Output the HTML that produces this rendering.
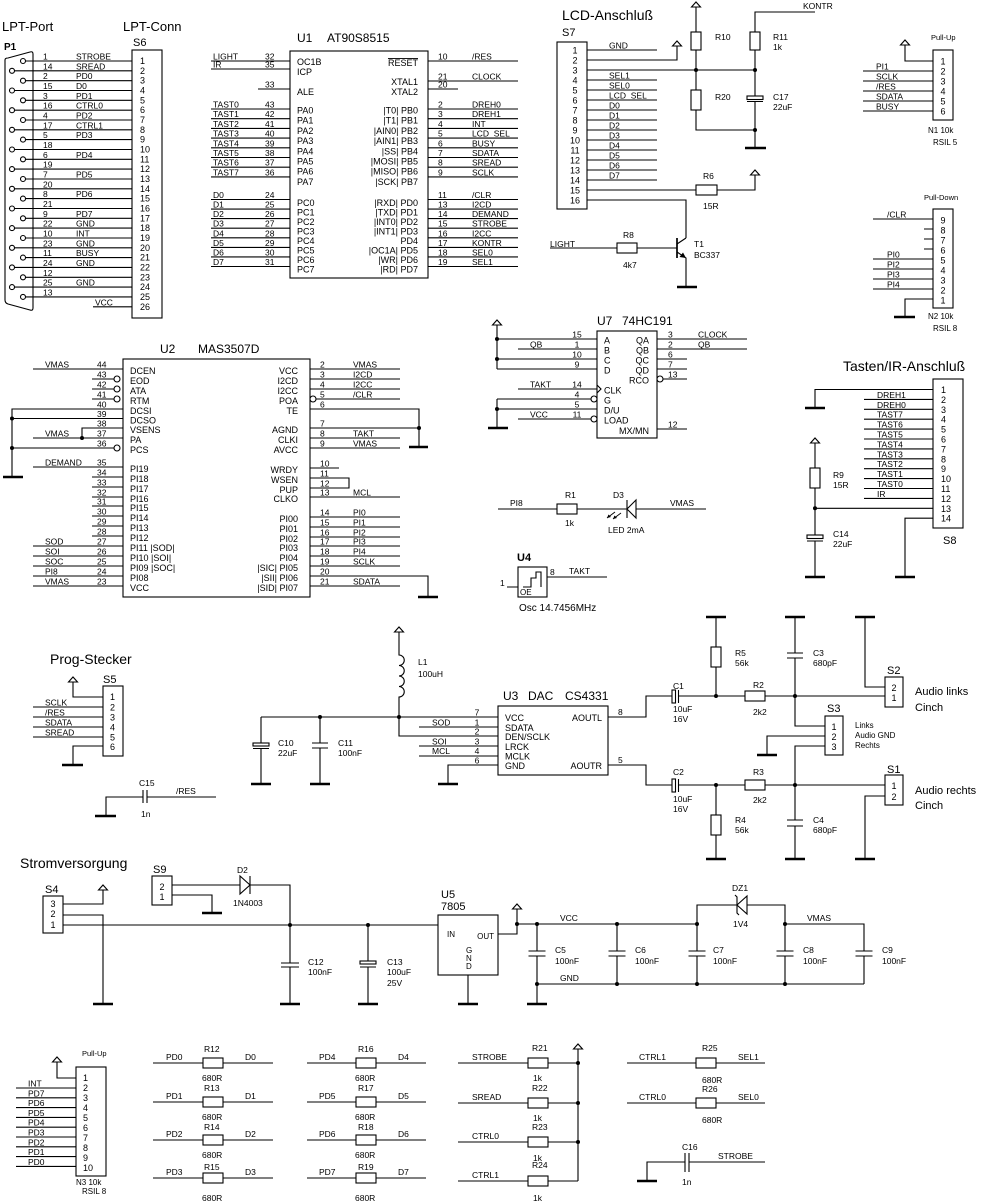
<!DOCTYPE html>
<html><head><meta charset="utf-8"><title>Schaltplan</title>
<style>
html,body{margin:0;padding:0;background:#fff;}
svg{display:block;}
</style></head><body>
<svg xmlns="http://www.w3.org/2000/svg" width="982" height="1204" viewBox="0 0 982 1204" font-family="'Liberation Sans', sans-serif" font-size="8.5">
<rect width="982" height="1204" fill="#fff"/>

<!-- ================= WIRES / SHAPES ================= -->
<g fill="none" stroke="#000" stroke-width="1.1">
<!-- LPT -->
<path d="M5,60 Q5,58 8,58 L30,52 Q33,51 33,54 L33,308 Q33,311 30,310 L8,304 Q5,303 5,300 Z"/>
<rect x="132" y="50" width="30" height="268"/>
<path d="M25.5,61H132 M14.5,70.8H132 M25.5,80.7H132 M14.5,90.5H132 M25.5,100.3H132 M14.5,110.2H132 M25.5,120H132 M14.5,129.8H132 M25.5,139.6H132 M14.5,149.5H132 M25.5,159.3H132 M14.5,169.1H132 M25.5,179H132 M14.5,188.8H132 M25.5,198.6H132 M14.5,208.5H132 M25.5,218.3H132 M14.5,228.1H132 M25.5,238H132 M14.5,247.8H132 M25.5,257.6H132 M14.5,267.4H132 M25.5,277.3H132 M14.5,287.1H132 M25.5,296.9H132 M93,306.8H132"/>
<g fill="#fff">
<circle cx="23" cy="61" r="2.5"/><circle cx="23" cy="80.7" r="2.5"/><circle cx="23" cy="100.3" r="2.5"/><circle cx="23" cy="120" r="2.5"/><circle cx="23" cy="139.6" r="2.5"/><circle cx="23" cy="159.3" r="2.5"/><circle cx="23" cy="179" r="2.5"/><circle cx="23" cy="198.6" r="2.5"/><circle cx="23" cy="218.3" r="2.5"/><circle cx="23" cy="238" r="2.5"/><circle cx="23" cy="257.6" r="2.5"/><circle cx="23" cy="277.3" r="2.5"/><circle cx="23" cy="296.9" r="2.5"/>
<circle cx="12" cy="70.8" r="2.5"/><circle cx="12" cy="90.5" r="2.5"/><circle cx="12" cy="110.2" r="2.5"/><circle cx="12" cy="129.8" r="2.5"/><circle cx="12" cy="149.5" r="2.5"/><circle cx="12" cy="169.1" r="2.5"/><circle cx="12" cy="188.8" r="2.5"/><circle cx="12" cy="208.5" r="2.5"/><circle cx="12" cy="228.1" r="2.5"/><circle cx="12" cy="247.8" r="2.5"/><circle cx="12" cy="267.4" r="2.5"/><circle cx="12" cy="287.1" r="2.5"/>
</g>

<!-- U1 -->
<rect x="290" y="51" width="138" height="227"/>
<path d="M211,61H290 M211,69H290 M258,89H290 M211,109H290 M211,118.7H290 M211,128.4H290 M211,138.1H290 M211,147.8H290 M211,157.5H290 M211,167.2H290 M211,176.9H290 M211,199.5H290 M211,209.1H290 M211,218.6H290 M211,228.2H290 M211,237.8H290 M211,247.4H290 M211,256.9H290 M211,266.5H290"/>
<path d="M428,61H518 M428,81H518 M428,89H458 M428,109H518 M428,118.7H518 M428,128.4H518 M428,138.1H518 M428,147.8H518 M428,157.5H518 M428,167.2H518 M428,176.9H518 M428,199.5H518 M428,209.1H518 M428,218.6H518 M428,228.2H518 M428,237.8H518 M428,247.4H518 M428,256.9H518 M428,266.5H518"/>

<!-- LCD -->
<rect x="557" y="42" width="30" height="167"/>
<path d="M587,50H657 M587,60H677V46 M587,70H755 M587,80H657 M587,90H657 M587,100H657 M587,110H657 M587,120H657 M587,130H657 M587,140H657 M587,150H657 M587,160H657 M587,170H657 M587,180H657 M587,190H696 M717,190H755V175 M587,200H686V238"/>
<path d="M696,7V32 M696,50V90 M696,110V130H755 M815,12H755V32 M755,50V96 M747,101.5H763 M755,101.5V148"/>
<rect x="691" y="32" width="10" height="18"/><rect x="691" y="90" width="10" height="20"/>
<rect x="750" y="32" width="10" height="18"/><rect x="747" y="96" width="16" height="3.5"/>
<rect x="696" y="185" width="21" height="10"/>
<path d="M677,238V258" stroke-width="1.7"/>
<path d="M677,244L686,238 M677,252L686,258V287 M550,248H617 M637,248H677"/>
<rect x="617" y="243" width="20" height="10"/>

<!-- N1 / N2 -->
<rect x="933" y="50" width="20" height="70"/>
<path d="M933,61H905V45 M863,71H933 M863,81H933 M863,91H933 M863,101H933 M863,111H933"/>
<rect x="933" y="209" width="20" height="99"/>
<path d="M873,219H933 M924,229H933 M924,239H933 M924,249H933 M873,259H933 M873,269H933 M873,279H933 M873,289H933 M933,299H905V317"/>

<!-- U2 -->
<rect x="123" y="359" width="187" height="238"/>
<path d="M33,369H123 M92,379H114 M92,389H114 M92,399H114 M12,477V409H123 M12,418.5H123 M82,438V428H123 M33,438H123 M12,448H114 M33,467H123 M92,477H123 M92,487H123 M92,497H123 M92,506H123 M92,516H123 M92,526H123 M92,536H123 M33,546H123 M33,556H123 M33,566H123 M33,576H123 M33,586H123"/>
<path d="M310,369H400 M310,379H400 M310,389H400 M316,399H400 M310,409H419V447 M310,428H419 M310,438H400 M310,448H400 M310,468H339 M310,478H349V488H310 M310,497H400 M310,517H400 M310,527H400 M310,537H400 M310,546H400 M310,556H400 M310,566H400 M310,576H428V597 M310,586H400"/>
<g fill="#fff"><circle cx="117" cy="379" r="3"/><circle cx="117" cy="389" r="3"/><circle cx="117" cy="399" r="3"/><circle cx="117" cy="448" r="3"/><circle cx="313" cy="399" r="3"/></g>

<!-- U7 -->
<rect x="597" y="331" width="60" height="107"/>
<path d="M497,325V369 M497,339H597 M518,349H597 M497,359H597 M497,369H597 M518,389H597 M597,385L601,389L597,393 M497,399H591 M497,409H597 M497,399V428 M518,419H591"/>
<path d="M657,339H747 M657,349H747 M657,359H687 M657,369H687 M663,379H687 M657,429H687"/>
<g fill="#fff"><circle cx="594" cy="399" r="3"/><circle cx="594" cy="419" r="3"/><circle cx="660" cy="379" r="3"/></g>

<!-- R1 / D3 -->
<path d="M498,509H557 M577,509H627 M627,500V518 M636,509H706"/>
<rect x="557" y="504" width="20" height="10"/>
<polygon points="627,509 636,500 636,518" fill="#fff"/>
<path d="M621,513L613,519 M615,512L607,518" stroke-width="0.9"/>

<!-- U4 -->
<rect x="518" y="567" width="29" height="30"/>
<path d="M523,587H531V578H536V572H541V587 M547,577H607 M507,587H518"/>

<!-- S8 / Tasten -->
<rect x="933" y="379" width="30" height="149"/>
<path d="M933,389.5H815V408 M864,399.4H933 M864,409.3H933 M864,419.2H933 M864,429.1H933 M864,439H933 M864,448.9H933 M864,458.8H933 M864,468.7H933 M864,478.6H933 M864,488.5H933 M864,498.4H933 M933,508.3H815 M933,518.2H905V577"/>
<path d="M815,443V468 M815,488V535 M807,541H823 M815,541V577"/>
<rect x="810" y="468" width="10" height="20"/><rect x="807" y="535" width="16" height="3.5"/>

<!-- S5 / C15 -->
<rect x="103" y="686" width="20" height="70"/>
<path d="M103,697H73V682 M33,707H103 M33,717H103 M33,727H103 M33,737H103 M103,746H73V765"/>
<path d="M147,797H216 M143,790V803 M147,790V803 M143,797H106V816"/>

<!-- L1 / C10 / C11 / U3 -->
<path d="M399,632V655 a5.25,5.25 0 0 1 0,10.5 a5.25,5.25 0 0 1 0,10.5 a5.25,5.25 0 0 1 0,10.5 a5.25,5.25 0 0 1 0,10.5 V736H498 M261,717H498"/>
<path d="M261,717V743 M253,748.5H269 M261,748.5V784 M320,717V743 M312,743H328 M312,748H328 M320,748V784"/>
<rect x="253" y="743" width="16" height="3"/>
<rect x="498" y="706" width="110" height="69"/>
<path d="M419,727H498 M419,746H498 M419,756H498 M498,765H448V784 M608,717H646V696H672 M608,765H646V785H672"/>

<!-- Audio -->
<rect x="672" y="690" width="3.5" height="13"/><rect x="672" y="779" width="3.5" height="13"/>
<path d="M678.5,690V703 M678.5,779V792 M678.5,696H745 M765,696H885 M678.5,785H745 M765,785H885"/>
<rect x="745" y="691" width="20" height="10"/><rect x="745" y="780" width="20" height="10"/>
<path d="M716,617V647 M716,667V696 M716,785V815 M716,835V859"/>
<rect x="711" y="647" width="10" height="20"/><rect x="711" y="815" width="10" height="20"/>
<path d="M795,617V653 M787,653H803 M787,658H803 M795,658V726H825 M795,785V820 M787,820H803 M787,826H803 M795,826V859"/>
<rect x="885" y="677" width="18" height="30"/><rect x="825" y="716" width="18" height="39"/><rect x="885" y="775" width="18" height="30"/>
<path d="M885,687H865V617 M825,736H767V755 M825,746H795V785 M885,796H865V859"/>

<!-- Power -->
<rect x="43" y="896" width="20" height="37"/>
<path d="M63,904H103V890 M63,915H103V1004 M63,925H438"/>
<rect x="152" y="876" width="20" height="29"/>
<path d="M172,885H240 M250,876V894 M250,885H290V925 M172,895H212V913"/>
<polygon points="240,876 240,894 250,885" fill="#fff"/>
<path d="M290,925V963 M281,963H299 M281,967H299 M290,967V1004 M368,925V961 M360,967H376 M368,967V1004"/>
<rect x="360" y="961" width="16" height="3"/>
<rect x="438" y="915" width="60" height="60"/>
<path d="M468,975V1004 M498,934H517V909 M517,924H697"/>
<path d="M537,924V951 M528.5,951H545.5 M528.5,956H545.5 M537,956V984 M617,924V951 M608.5,951H625.5 M608.5,956H625.5 M617,956V984 M697,924V951 M688.5,951H705.5 M688.5,956H705.5 M697,956V984 M785,924V951 M776.5,951H793.5 M776.5,956H793.5 M785,956V984 M785,924H864V951 M855.5,951H872.5 M855.5,956H872.5 M864,956V984 M537,984H864 M537,984V1004"/>
<path d="M697,924V905H737 M747,905H785V924 M735,895L737,897V913L739,915"/>
<polygon points="737,905 747,896 747,914" fill="#fff"/>

<!-- Bottom -->
<rect x="76" y="1067" width="30" height="109"/>
<path d="M76,1078H57V1062 M16,1088H76 M16,1097.8H76 M16,1107.6H76 M16,1117.4H76 M16,1127.2H76 M16,1137H76 M16,1146.8H76 M16,1156.6H76 M16,1166.4H76"/>
<path d="M153,1063H203 M223,1063H273 M153,1102H203 M223,1102H273 M153,1140H203 M223,1140H273 M153,1178H203 M223,1178H273"/>
<rect x="203" y="1058" width="20" height="10"/><rect x="203" y="1097" width="20" height="10"/><rect x="203" y="1135" width="20" height="10"/><rect x="203" y="1173" width="20" height="10"/>
<path d="M307,1063H356 M376,1063H426 M307,1102H356 M376,1102H426 M307,1140H356 M376,1140H426 M307,1178H356 M376,1178H426"/>
<rect x="356" y="1058" width="20" height="10"/><rect x="356" y="1097" width="20" height="10"/><rect x="356" y="1135" width="20" height="10"/><rect x="356" y="1173" width="20" height="10"/>
<path d="M458,1063H528 M548,1063H578 M458,1103H528 M548,1103H578 M458,1142H528 M548,1142H578 M458,1181H528 M548,1181H578 M578,1049V1181"/>
<rect x="528" y="1058" width="20" height="10"/><rect x="528" y="1098" width="20" height="10"/><rect x="528" y="1137" width="20" height="10"/><rect x="528" y="1176" width="20" height="10"/>
<path d="M627,1063H696 M716,1063H765 M627,1103H696 M716,1103H765"/>
<rect x="696" y="1058" width="20" height="10"/><rect x="696" y="1098" width="20" height="10"/>
<path d="M685,1153V1172 M689,1153V1172 M689,1162H765 M685,1162H647V1181"/>
</g>

<!-- power arrows -->
<g fill="#fff" stroke="#000" stroke-width="1.1">
<polygon points="691.5,7 696,2 700.5,7"/>
<polygon points="672.5,46 677,41 681.5,46"/>
<polygon points="750.5,175 755,170 759.5,175"/>
<polygon points="900.5,45 905,40 909.5,45"/>
<polygon points="492.5,325 497,320 501.5,325"/>
<polygon points="810.5,443 815,438 819.5,443"/>
<polygon points="68.5,682 73,677 77.5,682"/>
<polygon points="394.5,632 399,627 403.5,632"/>
<polygon points="98.5,890 103,885 107.5,890"/>
<polygon points="512.5,909 517,904 521.5,909"/>
<polygon points="52.5,1062 57,1057 61.5,1062"/>
<polygon points="573.5,1049 578,1044 582.5,1049"/>
</g>

<!-- grounds -->
<g stroke="#000" stroke-width="2.6">
<path d="M745,148H766 M677,287H697 M894,317H915 M3,477H23 M409,447H428 M418,597H438 M488,428H508 M805,408H825 M895,577H915 M805,577H825 M62,765H83 M95,816H116 M251,784H271 M310,784H330 M438,784H458 M706,617H726 M785,617H805 M855,617H875 M757,755H777 M706,859H726 M785,859H805 M855,859H875 M93,1004H113 M202,913H222 M280,1004H300 M358,1004H378 M458,1004H478 M527,1004H547 M637,1181H657"/>
</g>

<!-- dots & arrow heads -->
<g fill="#000">
<circle cx="696" cy="70" r="2"/><circle cx="755" cy="70" r="2"/><circle cx="755" cy="130" r="2"/>
<polygon points="686,258 679.5,257 683,252.5"/>
<circle cx="12" cy="418.5" r="2"/><circle cx="12" cy="448" r="2"/><circle cx="82" cy="438" r="2"/><circle cx="419" cy="428" r="2"/>
<circle cx="497" cy="339" r="2"/><circle cx="497" cy="359" r="2"/><circle cx="497" cy="409" r="2"/>
<polygon points="607,518 608.5,514.5 611,517"/><polygon points="613,519 614.5,515.5 617,518"/>
<circle cx="815" cy="508.3" r="2"/>
<circle cx="320" cy="717" r="2"/><circle cx="399" cy="717" r="2"/>
<circle cx="716" cy="696" r="2"/><circle cx="795" cy="696" r="2"/><circle cx="716" cy="785" r="2"/><circle cx="795" cy="785" r="2"/>
<circle cx="290" cy="925" r="2"/><circle cx="368" cy="925" r="2"/><circle cx="517" cy="924" r="2"/>
<circle cx="537" cy="924" r="2"/><circle cx="617" cy="924" r="2"/><circle cx="697" cy="924" r="2"/><circle cx="785" cy="924" r="2"/>
<circle cx="537" cy="984" r="2"/><circle cx="617" cy="984" r="2"/><circle cx="697" cy="984" r="2"/><circle cx="785" cy="984" r="2"/>
<circle cx="578" cy="1063" r="2"/><circle cx="578" cy="1103" r="2"/><circle cx="578" cy="1142" r="2"/>
</g>

<!-- ================= TEXT ================= -->
<g fill="#000">
<!-- LPT -->
<text x="2" y="31" font-size="13">LPT-Port</text>
<text x="123" y="31" font-size="13">LPT-Conn</text>
<text x="4" y="50" font-size="10" font-weight="bold">P1</text>
<text x="133" y="46" font-size="11">S6</text>
<text x="43" y="59.5">1</text><text x="43" y="69.3">14</text><text x="43" y="79.2">2</text><text x="43" y="89">15</text><text x="43" y="98.8">3</text><text x="43" y="108.7">16</text><text x="43" y="118.5">4</text><text x="43" y="128.3">17</text><text x="43" y="138.1">5</text><text x="43" y="148">18</text><text x="43" y="157.8">6</text><text x="43" y="167.6">19</text><text x="43" y="177.5">7</text><text x="43" y="187.3">20</text><text x="43" y="197.1">8</text><text x="43" y="207">21</text><text x="43" y="216.8">9</text><text x="43" y="226.6">22</text><text x="43" y="236.5">10</text><text x="43" y="246.3">23</text><text x="43" y="256.1">11</text><text x="43" y="265.9">24</text><text x="43" y="275.8">12</text><text x="43" y="285.6">25</text><text x="43" y="295.4">13</text>
<text x="76" y="59.5">STROBE</text><text x="76" y="69.3">SREAD</text><text x="76" y="79.2">PD0</text><text x="76" y="89">D0</text><text x="76" y="98.8">PD1</text><text x="76" y="108.7">CTRL0</text><text x="76" y="118.5">PD2</text><text x="76" y="128.3">CTRL1</text><text x="76" y="138.1">PD3</text><text x="76" y="157.8">PD4</text><text x="76" y="177.5">PD5</text><text x="76" y="197.1">PD6</text><text x="76" y="216.8">PD7</text><text x="76" y="226.6">GND</text><text x="76" y="236.5">INT</text><text x="76" y="246.3">GND</text><text x="76" y="256.1">BUSY</text><text x="76" y="265.9">GND</text><text x="76" y="285.6">GND</text><text x="95" y="305.3">VCC</text>
<g font-size="9">
<text x="140" y="64">1</text><text x="140" y="73.8">2</text><text x="140" y="83.7">3</text><text x="140" y="93.5">4</text><text x="140" y="103.3">5</text><text x="140" y="113.2">6</text><text x="140" y="123">7</text><text x="140" y="132.8">8</text><text x="140" y="142.6">9</text><text x="140" y="152.5">10</text><text x="140" y="162.3">11</text><text x="140" y="172.1">12</text><text x="140" y="182">13</text><text x="140" y="191.8">14</text><text x="140" y="201.6">15</text><text x="140" y="211.5">16</text><text x="140" y="221.3">17</text><text x="140" y="231.1">18</text><text x="140" y="241">19</text><text x="140" y="250.8">20</text><text x="140" y="260.6">21</text><text x="140" y="270.4">22</text><text x="140" y="280.3">23</text><text x="140" y="290.1">24</text><text x="140" y="299.9">25</text><text x="140" y="309.8">26</text>
</g>

<!-- U1 -->
<text x="297" y="42" font-size="12">U1</text><text x="327" y="42" font-size="12">AT90S8515</text>
<text x="213" y="59.5">LIGHT</text><text x="265" y="59.5">32</text>
<text x="213" y="67.5">IR</text><text x="265" y="67.5">35</text>
<text x="265" y="87.5">33</text>
<text x="213" y="107.5">TAST0</text><text x="265" y="107.5">43</text>
<text x="213" y="117.2">TAST1</text><text x="265" y="117.2">42</text>
<text x="213" y="126.9">TAST2</text><text x="265" y="126.9">41</text>
<text x="213" y="136.6">TAST3</text><text x="265" y="136.6">40</text>
<text x="213" y="146.3">TAST4</text><text x="265" y="146.3">39</text>
<text x="213" y="156">TAST5</text><text x="265" y="156">38</text>
<text x="213" y="165.7">TAST6</text><text x="265" y="165.7">37</text>
<text x="213" y="175.4">TAST7</text><text x="265" y="175.4">36</text>
<text x="213" y="198">D0</text><text x="265" y="198">24</text>
<text x="213" y="207.6">D1</text><text x="265" y="207.6">25</text>
<text x="213" y="217.1">D2</text><text x="265" y="217.1">26</text>
<text x="213" y="226.7">D3</text><text x="265" y="226.7">27</text>
<text x="213" y="236.3">D4</text><text x="265" y="236.3">28</text>
<text x="213" y="245.9">D5</text><text x="265" y="245.9">29</text>
<text x="213" y="255.4">D6</text><text x="265" y="255.4">30</text>
<text x="213" y="265">D7</text><text x="265" y="265">31</text>
<g font-size="9">
<text x="297" y="65">OC1B</text><text x="297" y="75">ICP</text><text x="297" y="95">ALE</text>
<text x="297" y="113.5">PA0</text><text x="297" y="123.7">PA1</text><text x="297" y="133.9">PA2</text><text x="297" y="144.1">PA3</text><text x="297" y="154.3">PA4</text><text x="297" y="164.5">PA5</text><text x="297" y="174.7">PA6</text><text x="297" y="184.9">PA7</text>
<text x="297" y="206">PC0</text><text x="297" y="215.5">PC1</text><text x="297" y="225">PC2</text><text x="297" y="234.5">PC3</text><text x="297" y="244">PC4</text><text x="297" y="253.5">PC5</text><text x="297" y="263">PC6</text><text x="297" y="272.5">PC7</text>
<g text-anchor="end">
<text x="418" y="66" text-decoration="overline">RESET</text><text x="418" y="85">XTAL1</text><text x="418" y="95">XTAL2</text>
<text x="418" y="113.5">|T0| PB0</text><text x="418" y="123.7">|T1| PB1</text><text x="418" y="133.9">|AIN0| PB2</text><text x="418" y="144.1">|AIN1| PB3</text><text x="418" y="154.3">|SS| PB4</text><text x="418" y="164.5">|MOSI| PB5</text><text x="418" y="174.7">|MISO| PB6</text><text x="418" y="184.9">|SCK| PB7</text>
<text x="418" y="206">|RXD| PD0</text><text x="418" y="215.5">|TXD| PD1</text><text x="418" y="225">|INT0| PD2</text><text x="418" y="234.5">|INT1| PD3</text><text x="418" y="244">PD4</text><text x="418" y="253.5">|OC1A| PD5</text><text x="418" y="263">|WR| PD6</text><text x="418" y="272.5">|RD| PD7</text>
</g>
</g>
<text x="438" y="59.5">10</text><text x="472" y="59.5">/RES</text>
<text x="438" y="79.5">21</text><text x="472" y="79.5">CLOCK</text>
<text x="438" y="87.5">20</text>
<text x="438" y="107.5">2</text><text x="472" y="107.5">DREH0</text>
<text x="438" y="117.2">3</text><text x="472" y="117.2">DREH1</text>
<text x="438" y="126.9">4</text><text x="472" y="126.9">INT</text>
<text x="438" y="136.6">5</text><text x="472" y="136.6">LCD_SEL</text>
<text x="438" y="146.3">6</text><text x="472" y="146.3">BUSY</text>
<text x="438" y="156">7</text><text x="472" y="156">SDATA</text>
<text x="438" y="165.7">8</text><text x="472" y="165.7">SREAD</text>
<text x="438" y="175.4">9</text><text x="472" y="175.4">SCLK</text>
<text x="438" y="198">11</text><text x="472" y="198">/CLR</text>
<text x="438" y="207.6">13</text><text x="472" y="207.6">I2CD</text>
<text x="438" y="217.1">14</text><text x="472" y="217.1">DEMAND</text>
<text x="438" y="226.7">15</text><text x="472" y="226.7">STROBE</text>
<text x="438" y="236.3">16</text><text x="472" y="236.3">I2CC</text>
<text x="438" y="245.9">17</text><text x="472" y="245.9">KONTR</text>
<text x="438" y="255.4">18</text><text x="472" y="255.4">SEL0</text>
<text x="438" y="265">19</text><text x="472" y="265">SEL1</text>

<!-- LCD -->
<text x="562" y="20" font-size="14">LCD-Anschluß</text>
<text x="562" y="36" font-size="11">S7</text>
<g font-size="9" text-anchor="middle">
<text x="575" y="53.5">1</text><text x="575" y="63.5">2</text><text x="575" y="73.5">3</text><text x="575" y="83.5">4</text><text x="575" y="93.5">5</text><text x="575" y="103.5">6</text><text x="575" y="113.5">7</text><text x="575" y="123.5">8</text><text x="575" y="133.5">9</text><text x="575" y="143.5">10</text><text x="575" y="153.5">11</text><text x="575" y="163.5">12</text><text x="575" y="173.5">13</text><text x="575" y="183.5">14</text><text x="575" y="193.5">15</text><text x="575" y="203.5">16</text>
</g>
<text x="609" y="48.5">GND</text><text x="609" y="78.5">SEL1</text><text x="609" y="88.5">SEL0</text><text x="609" y="98.5">LCD_SEL</text><text x="609" y="108.5">D0</text><text x="609" y="118.5">D1</text><text x="609" y="128.5">D2</text><text x="609" y="138.5">D3</text><text x="609" y="148.5">D4</text><text x="609" y="158.5">D5</text><text x="609" y="168.5">D6</text><text x="609" y="178.5">D7</text>
<text x="715" y="40">R10</text><text x="715" y="100">R20</text>
<text x="773" y="40">R11</text><text x="773" y="50">1k</text>
<text x="773" y="100">C17</text><text x="773" y="110">22uF</text>
<text x="803" y="9">KONTR</text>
<text x="703" y="179">R6</text><text x="703" y="209">15R</text>
<text x="550" y="247">LIGHT</text>
<text x="623" y="238">R8</text><text x="623" y="268">4k7</text>
<text x="694" y="247">T1</text><text x="694" y="258">BC337</text>

<!-- N1 / N2 -->
<text x="931" y="40" font-size="7.5">Pull-Up</text>
<g font-size="9" text-anchor="middle">
<text x="943" y="64.5">1</text><text x="943" y="74.5">2</text><text x="943" y="84.5">3</text><text x="943" y="94.5">4</text><text x="943" y="104.5">5</text><text x="943" y="114.5">6</text>
<text x="943" y="223.5">9</text><text x="943" y="233.5">8</text><text x="943" y="243.5">7</text><text x="943" y="253.5">6</text><text x="943" y="263.5">5</text><text x="943" y="273.5">4</text><text x="943" y="283.5">3</text><text x="943" y="293.5">2</text><text x="943" y="303.5">1</text>
</g>
<text x="876" y="69.5">PI1</text><text x="876" y="79.5">SCLK</text><text x="876" y="89.5">/RES</text><text x="876" y="99.5">SDATA</text><text x="876" y="109.5">BUSY</text>
<text x="928" y="133" font-size="8">N1  10k</text><text x="933" y="145" font-size="8">RSIL 5</text>
<text x="924" y="200" font-size="7.5">Pull-Down</text>
<text x="887" y="217.5">/CLR</text><text x="887" y="257.5">PI0</text><text x="887" y="267.5">PI2</text><text x="887" y="277.5">PI3</text><text x="887" y="287.5">PI4</text>
<text x="928" y="319" font-size="8">N2  10k</text><text x="933" y="331" font-size="8">RSIL 8</text>

<!-- U2 -->
<text x="160" y="353" font-size="12">U2</text><text x="198" y="353" font-size="12">MAS3507D</text>
<text x="97" y="367.5">44</text><text x="97" y="377.5">43</text><text x="97" y="387.5">42</text><text x="97" y="397.5">41</text><text x="97" y="407.5">40</text><text x="97" y="417">39</text><text x="97" y="426.5">38</text><text x="97" y="436.5">37</text><text x="97" y="446.5">36</text><text x="97" y="465.5">35</text><text x="97" y="475.5">34</text><text x="97" y="485.5">33</text><text x="97" y="495.5">32</text><text x="97" y="504.5">31</text><text x="97" y="514.5">30</text><text x="97" y="524.5">29</text><text x="97" y="534.5">28</text><text x="97" y="544.5">27</text><text x="97" y="554.5">26</text><text x="97" y="564.5">25</text><text x="97" y="574.5">24</text><text x="97" y="584.5">23</text>
<text x="45" y="367.5">VMAS</text><text x="45" y="436.5">VMAS</text><text x="45" y="465.5">DEMAND</text><text x="45" y="544.5">SOD</text><text x="45" y="554.5">SOI</text><text x="45" y="564.5">SOC</text><text x="45" y="574.5">PI8</text><text x="45" y="584.5">VMAS</text>
<g font-size="9">
<text x="130" y="374">DCEN</text><text x="130" y="384">EOD</text><text x="130" y="394">ATA</text><text x="130" y="404">RTM</text><text x="130" y="414">DCSI</text><text x="130" y="423.5">DCSO</text><text x="130" y="433">VSENS</text><text x="130" y="443">PA</text><text x="130" y="453">PCS</text>
<text x="130" y="472">PI19</text><text x="130" y="482">PI18</text><text x="130" y="492">PI17</text><text x="130" y="502">PI16</text><text x="130" y="511">PI15</text><text x="130" y="521">PI14</text><text x="130" y="531">PI13</text><text x="130" y="541">PI12</text><text x="130" y="551">PI11 |SOD|</text><text x="130" y="561">PI10 |SOI|</text><text x="130" y="571">PI09 |SOC|</text><text x="130" y="581">PI08</text><text x="130" y="591">VCC</text>
<g text-anchor="end">
<text x="298" y="374">VCC</text><text x="298" y="384">I2CD</text><text x="298" y="394">I2CC</text><text x="298" y="404">POA</text><text x="298" y="414">TE</text><text x="298" y="433">AGND</text><text x="298" y="443">CLKI</text><text x="298" y="453">AVCC</text><text x="298" y="473">WRDY</text><text x="298" y="483">WSEN</text><text x="298" y="493">PUP</text><text x="298" y="502">CLKO</text><text x="298" y="522">PI00</text><text x="298" y="532">PI01</text><text x="298" y="542">PI02</text><text x="298" y="551">PI03</text><text x="298" y="561">PI04</text><text x="298" y="571">|SIC| PI05</text><text x="298" y="581">|SII| PI06</text><text x="298" y="591">|SID| PI07</text>
</g>
</g>
<text x="320" y="367.5">2</text><text x="320" y="377.5">3</text><text x="320" y="387.5">4</text><text x="320" y="397.5">5</text><text x="320" y="407.5">6</text><text x="320" y="426.5">7</text><text x="320" y="436.5">8</text><text x="320" y="446.5">9</text><text x="320" y="466.5">10</text><text x="320" y="476.5">11</text><text x="320" y="486.5">12</text><text x="320" y="495.5">13</text><text x="320" y="515.5">14</text><text x="320" y="525.5">15</text><text x="320" y="535.5">16</text><text x="320" y="544.5">17</text><text x="320" y="554.5">18</text><text x="320" y="564.5">19</text><text x="320" y="574.5">20</text><text x="320" y="584.5">21</text>
<text x="353" y="367.5">VMAS</text><text x="353" y="377.5">I2CD</text><text x="353" y="387.5">I2CC</text><text x="353" y="397.5">/CLR</text><text x="353" y="436.5">TAKT</text><text x="353" y="446.5">VMAS</text><text x="353" y="495.5">MCL</text><text x="353" y="515.5">PI0</text><text x="353" y="525.5">PI1</text><text x="353" y="535.5">PI2</text><text x="353" y="544.5">PI3</text><text x="353" y="554.5">PI4</text><text x="353" y="564.5">SCLK</text><text x="353" y="584.5">SDATA</text>

<!-- U7 -->
<text x="597" y="325" font-size="12">U7</text><text x="622" y="325" font-size="12">74HC191</text>
<g text-anchor="middle">
<text x="577" y="337.5">15</text><text x="577" y="347.5">1</text><text x="577" y="357.5">10</text><text x="577" y="367.5">9</text><text x="577" y="387.5">14</text><text x="577" y="397.5">4</text><text x="577" y="407.5">5</text><text x="577" y="417.5">11</text>
</g>
<text x="530" y="347.5">QB</text><text x="530" y="387.5">TAKT</text><text x="530" y="417.5">VCC</text>
<g font-size="9">
<text x="604" y="343.5">A</text><text x="604" y="353.5">B</text><text x="604" y="363.5">C</text><text x="604" y="373.5">D</text><text x="604" y="393.5">CLK</text><text x="604" y="403.5">G</text><text x="604" y="413.5">D/U</text><text x="604" y="423.5">LOAD</text>
<g text-anchor="end"><text x="649" y="343.5">QA</text><text x="649" y="353.5">QB</text><text x="649" y="363.5">QC</text><text x="649" y="373.5">QD</text><text x="649" y="383.5">RCO</text><text x="649" y="434">MX/MN</text></g>
</g>
<text x="668" y="337.5">3</text><text x="668" y="347.5">2</text><text x="668" y="357.5">6</text><text x="668" y="367.5">7</text><text x="668" y="377.5">13</text><text x="668" y="427.5">12</text>
<text x="698" y="337.5">CLOCK</text><text x="698" y="347.5">QB</text>

<!-- R1 D3 U4 -->
<text x="510" y="506">PI8</text><text x="565" y="498">R1</text><text x="565" y="526">1k</text><text x="613" y="498">D3</text><text x="608" y="533">LED 2mA</text><text x="670" y="506">VMAS</text>
<text x="517" y="561" font-size="11" font-weight="bold">U4</text>
<text x="520" y="595" font-size="8">OE</text><text x="550" y="575">8</text><text x="569" y="574">TAKT</text><text x="500" y="586">1</text>
<text x="519" y="611" font-size="10">Osc 14.7456MHz</text>

<!-- Tasten -->
<text x="843" y="371" font-size="14">Tasten/IR-Anschluß</text>
<g font-size="9">
<text x="941" y="393">1</text><text x="941" y="402.9">2</text><text x="941" y="412.8">3</text><text x="941" y="422.7">4</text><text x="941" y="432.6">5</text><text x="941" y="442.5">6</text><text x="941" y="452.4">7</text><text x="941" y="462.3">8</text><text x="941" y="472.2">9</text><text x="941" y="482.1">10</text><text x="941" y="492">11</text><text x="941" y="501.9">12</text><text x="941" y="511.8">13</text><text x="941" y="521.7">14</text>
</g>
<text x="877" y="397.9">DREH1</text><text x="877" y="407.8">DREH0</text><text x="877" y="417.7">TAST7</text><text x="877" y="427.6">TAST6</text><text x="877" y="437.5">TAST5</text><text x="877" y="447.4">TAST4</text><text x="877" y="457.3">TAST3</text><text x="877" y="467.2">TAST2</text><text x="877" y="477.1">TAST1</text><text x="877" y="487">TAST0</text><text x="877" y="496.9">IR</text>
<text x="943" y="544" font-size="11">S8</text>
<text x="833" y="478">R9</text><text x="833" y="488">15R</text><text x="833" y="537">C14</text><text x="833" y="547">22uF</text>

<!-- Prog-Stecker -->
<text x="50" y="664" font-size="14">Prog-Stecker</text>
<text x="103" y="683" font-size="11">S5</text>
<g font-size="9"><text x="110" y="700">1</text><text x="110" y="710.5">2</text><text x="110" y="720.5">3</text><text x="110" y="730.5">4</text><text x="110" y="740.5">5</text><text x="110" y="750">6</text></g>
<text x="45" y="705.5">SCLK</text><text x="45" y="715.5">/RES</text><text x="45" y="725.5">SDATA</text><text x="45" y="735.5">SREAD</text>
<text x="139" y="786">C15</text><text x="176" y="794">/RES</text><text x="141" y="817">1n</text>

<!-- L1 C10 C11 U3 -->
<text x="418" y="665">L1</text><text x="418" y="677">100uH</text>
<text x="278" y="746">C10</text><text x="278" y="756">22uF</text>
<text x="338" y="746">C11</text><text x="338" y="756">100nF</text>
<text x="503" y="700" font-size="12">U3</text><text x="528" y="700" font-size="12">DAC</text><text x="565" y="700" font-size="12">CS4331</text>
<g text-anchor="middle"><text x="477" y="715.5">7</text><text x="477" y="725.5">1</text><text x="477" y="734.5">2</text><text x="477" y="744.5">3</text><text x="477" y="754">4</text><text x="477" y="763.5">6</text></g>
<text x="432" y="725.5">SOD</text><text x="432" y="744.5">SOI</text><text x="432" y="754">MCL</text>
<g font-size="9">
<text x="505" y="721">VCC</text><text x="505" y="731">SDATA</text><text x="505" y="740">DEN/SCLK</text><text x="505" y="750">LRCK</text><text x="505" y="759.5">MCLK</text><text x="505" y="769">GND</text>
<text x="602" y="721" text-anchor="end">AOUTL</text><text x="602" y="769" text-anchor="end">AOUTR</text>
</g>
<text x="618" y="715">8</text><text x="618" y="763">5</text>

<!-- Audio -->
<text x="673" y="689">C1</text><text x="673" y="712">10uF</text><text x="673" y="722">16V</text>
<text x="735" y="656">R5</text><text x="735" y="666">56k</text>
<text x="753" y="688">R2</text><text x="753" y="715">2k2</text>
<text x="813" y="656">C3</text><text x="813" y="666">680pF</text>
<text x="887" y="674" font-size="11">S2</text>
<g font-size="9" text-anchor="middle"><text x="894" y="691">2</text><text x="894" y="701">1</text><text x="834" y="730">1</text><text x="834" y="740">2</text><text x="834" y="750">3</text><text x="894" y="789">1</text><text x="894" y="800">2</text></g>
<text x="915" y="695" font-size="11">Audio links</text><text x="915" y="711" font-size="11">Cinch</text>
<text x="827" y="712" font-size="11">S3</text>
<text x="855" y="728" font-size="8">Links</text><text x="855" y="738" font-size="8">Audio GND</text><text x="855" y="748" font-size="8">Rechts</text>
<text x="673" y="775">C2</text><text x="673" y="802">10uF</text><text x="673" y="812">16V</text>
<text x="753" y="775">R3</text><text x="753" y="803">2k2</text>
<text x="735" y="823">R4</text><text x="735" y="833">56k</text>
<text x="813" y="823">C4</text><text x="813" y="833">680pF</text>
<text x="887" y="773" font-size="11">S1</text>
<text x="915" y="794" font-size="11">Audio rechts</text><text x="915" y="809" font-size="11">Cinch</text>

<!-- Power -->
<text x="20" y="868" font-size="14">Stromversorgung</text>
<text x="45" y="893" font-size="11">S4</text>
<g font-size="9" text-anchor="middle"><text x="53" y="907">3</text><text x="53" y="917">2</text><text x="53" y="928">1</text><text x="162" y="890">2</text><text x="162" y="900">1</text></g>
<text x="153" y="873" font-size="11">S9</text>
<text x="237" y="873">D2</text><text x="233" y="906">1N4003</text>
<text x="308" y="965">C12</text><text x="308" y="975">100nF</text>
<text x="387" y="965">C13</text><text x="387" y="975">100uF</text><text x="387" y="986">25V</text>
<text x="441" y="898" font-size="11">U5</text><text x="441" y="910" font-size="11">7805</text>
<text x="447" y="937" font-size="8">IN</text><text x="494" y="939" font-size="8" text-anchor="end">OUT</text>
<text x="466" y="953" font-size="8">G</text><text x="466" y="961" font-size="8">N</text><text x="466" y="969" font-size="8">D</text>
<text x="560" y="921">VCC</text><text x="560" y="981">GND</text><text x="807" y="921">VMAS</text>
<text x="732" y="891">DZ1</text><text x="733" y="927">1V4</text>
<text x="555" y="953">C5</text><text x="555" y="964">100nF</text>
<text x="635" y="953">C6</text><text x="635" y="964">100nF</text>
<text x="713" y="953">C7</text><text x="713" y="964">100nF</text>
<text x="803" y="953">C8</text><text x="803" y="964">100nF</text>
<text x="882" y="953">C9</text><text x="882" y="964">100nF</text>

<!-- Bottom -->
<text x="82" y="1056" font-size="7.5">Pull-Up</text>
<g font-size="9"><text x="83" y="1081">1</text><text x="83" y="1091">2</text><text x="83" y="1101">3</text><text x="83" y="1111">4</text><text x="83" y="1121">5</text><text x="83" y="1131">6</text><text x="83" y="1141">7</text><text x="83" y="1151">8</text><text x="83" y="1161">9</text><text x="83" y="1171">10</text></g>
<text x="28" y="1086.5">INT</text><text x="28" y="1096.3">PD7</text><text x="28" y="1106.1">PD6</text><text x="28" y="1115.9">PD5</text><text x="28" y="1125.7">PD4</text><text x="28" y="1135.5">PD3</text><text x="28" y="1145.3">PD2</text><text x="28" y="1155.1">PD1</text><text x="28" y="1164.9">PD0</text>
<text x="76" y="1185" font-size="8">N3  10k</text><text x="82" y="1194" font-size="8">RSIL 8</text>

<text x="166" y="1060">PD0</text><text x="245" y="1060">D0</text><text x="204" y="1052">R12</text><text x="202" y="1081">680R</text>
<text x="166" y="1099">PD1</text><text x="245" y="1099">D1</text><text x="204" y="1091">R13</text><text x="202" y="1120">680R</text>
<text x="166" y="1137">PD2</text><text x="245" y="1137">D2</text><text x="204" y="1130">R14</text><text x="202" y="1158">680R</text>
<text x="166" y="1175">PD3</text><text x="245" y="1175">D3</text><text x="204" y="1170">R15</text><text x="202" y="1201">680R</text>

<text x="319" y="1060">PD4</text><text x="398" y="1060">D4</text><text x="358" y="1052">R16</text><text x="355" y="1081">680R</text>
<text x="319" y="1099">PD5</text><text x="398" y="1099">D5</text><text x="358" y="1091">R17</text><text x="355" y="1120">680R</text>
<text x="319" y="1137">PD6</text><text x="398" y="1137">D6</text><text x="358" y="1130">R18</text><text x="355" y="1158">680R</text>
<text x="319" y="1175">PD7</text><text x="398" y="1175">D7</text><text x="358" y="1170">R19</text><text x="355" y="1201">680R</text>

<text x="472" y="1060">STROBE</text><text x="532" y="1051">R21</text><text x="533" y="1081">1k</text>
<text x="472" y="1100">SREAD</text><text x="532" y="1091">R22</text><text x="533" y="1121">1k</text>
<text x="472" y="1139">CTRL0</text><text x="532" y="1130">R23</text><text x="533" y="1161">1k</text>
<text x="472" y="1178">CTRL1</text><text x="532" y="1168">R24</text><text x="533" y="1201">1k</text>

<text x="639" y="1060">CTRL1</text><text x="738" y="1060">SEL1</text><text x="702" y="1051">R25</text><text x="702" y="1083">680R</text>
<text x="639" y="1100">CTRL0</text><text x="738" y="1100">SEL0</text><text x="702" y="1092">R26</text><text x="702" y="1123">680R</text>
<text x="682" y="1150">C16</text><text x="718" y="1159">STROBE</text><text x="682" y="1185">1n</text>
</g>
</svg>
</body></html>
